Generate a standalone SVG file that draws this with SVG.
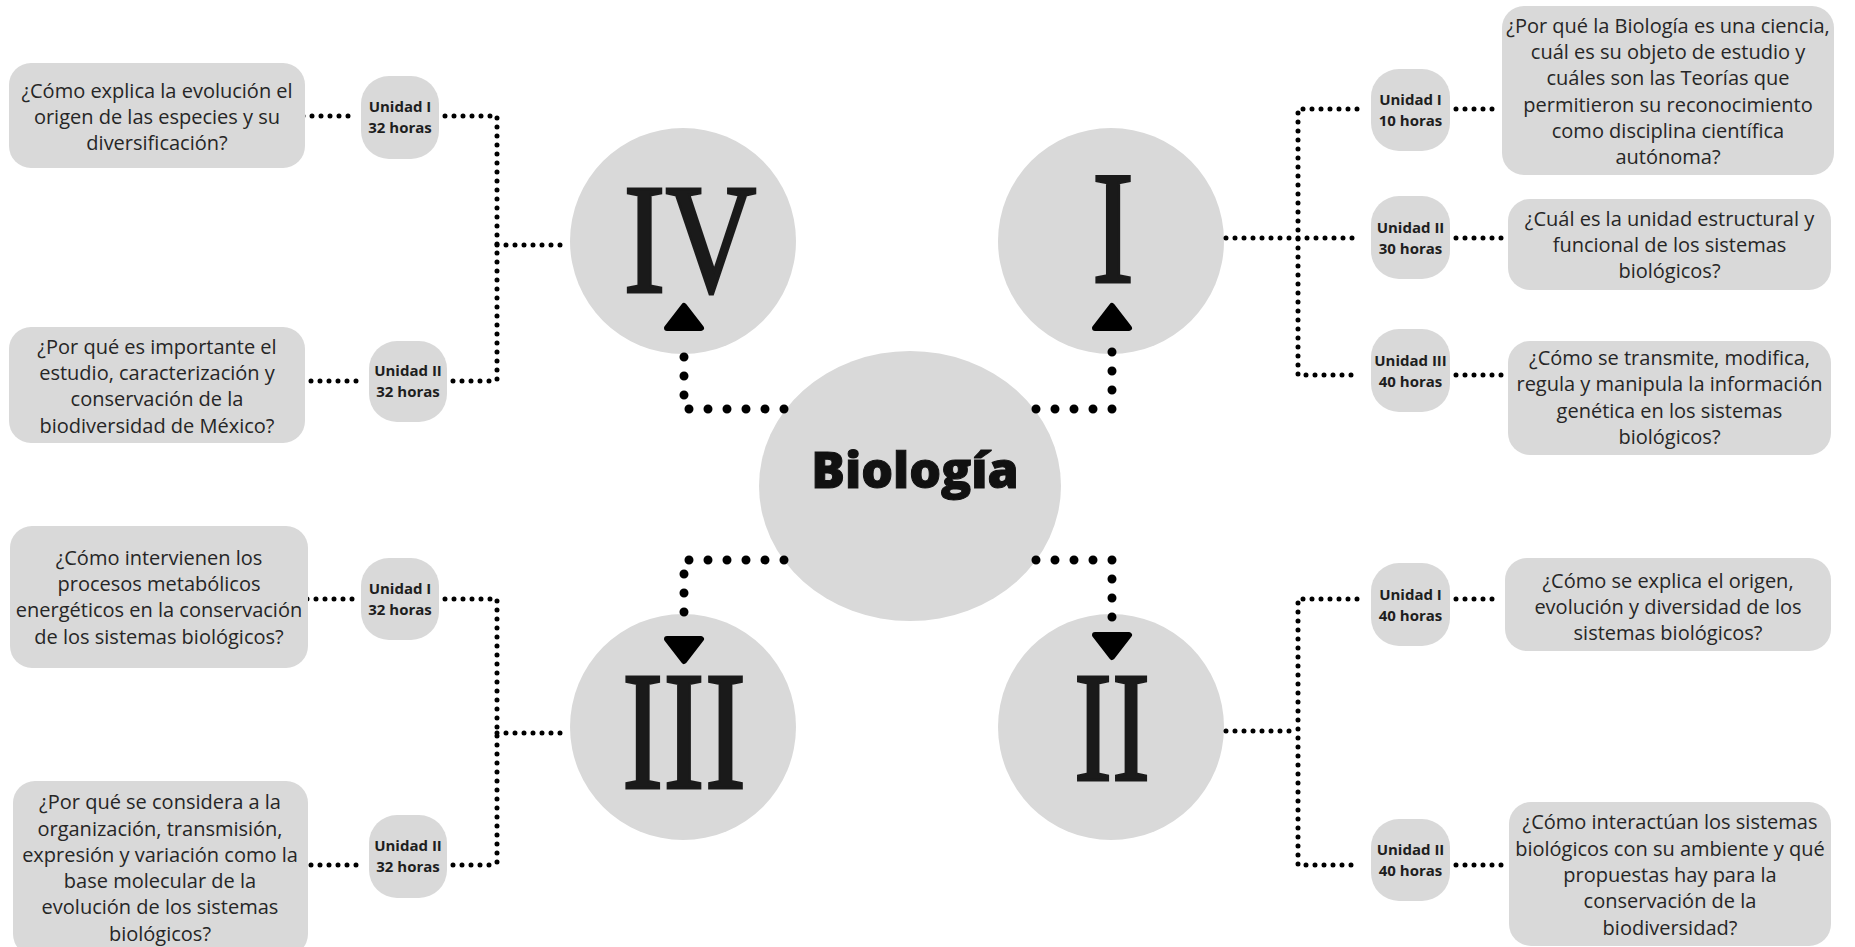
<svg xmlns="http://www.w3.org/2000/svg" width="1855" height="947" viewBox="0 0 1855 947">
<style>
.bg{fill:#ffffff}
.box{fill:#d9d9d9}
.circ{fill:#d9d9d9}
.q{font-family:"Open Sans","Liberation Sans",sans-serif;font-size:20px;fill:#262626;text-anchor:middle}
.u{font-family:"Open Sans","Liberation Sans",sans-serif;font-size:15px;font-weight:700;fill:#1e1e1e;text-anchor:middle}
.rn{font-family:"Liberation Serif","DejaVu Serif",serif;fill:#1a1a1a;stroke:#1a1a1a;stroke-width:3;stroke-linejoin:miter;text-anchor:middle}
.title{font-family:"Open Sans","Liberation Sans",sans-serif;font-size:50px;font-weight:800;fill:#111;stroke:#111;stroke-width:1;text-anchor:middle}
.sd{fill:none;stroke:#000;stroke-width:5;stroke-linecap:round;stroke-dasharray:0 9}
.bd{fill:none;stroke:#000;stroke-width:9;stroke-linecap:round;stroke-dasharray:0 19}
.ah{fill:#000;stroke:#000;stroke-width:6;stroke-linejoin:round}
</style>
<rect class="bg" x="0" y="0" width="1855" height="947"/>

<g id="center">
<ellipse class="circ" cx="910" cy="486" rx="151" ry="135"/>
<text class="title" x="915" y="488">Biología</text>
</g>
<g id="unit-IV">
<circle class="circ" cx="683" cy="241" r="113"/>
<text class="rn" x="690" y="292" font-size="156" textLength="133" lengthAdjust="spacingAndGlyphs">IV</text>
</g>
<g id="unit-I">
<circle class="circ" cx="1111" cy="241" r="113"/>
<text class="rn" x="1113" y="282" font-size="160" textLength="42" lengthAdjust="spacingAndGlyphs">I</text>
</g>
<g id="unit-III">
<circle class="circ" cx="683" cy="727" r="113"/>
<text class="rn" x="684" y="788" font-size="170" textLength="124" lengthAdjust="spacingAndGlyphs">III</text>
</g>
<g id="unit-II">
<circle class="circ" cx="1111" cy="727" r="113"/>
<text class="rn" x="1112" y="780" font-size="156" textLength="76" lengthAdjust="spacingAndGlyphs">II</text>
</g>

<g id="connectors">
<path class="bd" d="M784 409 H684 V344"/>
<path class="ah" d="M684 306 L701 328 L667 328 Z"/>
<path class="bd" d="M1036 409 H1112 V344"/>
<path class="ah" d="M1112 306 L1129 328 L1095 328 Z"/>
<path class="bd" d="M784 560 H684 V622"/>
<path class="ah" d="M684 661 L701 639 L667 639 Z"/>
<path class="bd" d="M1036 560 H1112 V618"/>
<path class="ah" d="M1112 657 L1129 635 L1095 635 Z"/>

<path class="sd" d="M303 116 H355"/>
<path class="sd" d="M445 116 H497 V381"/>
<path class="sd" d="M453 381 H497"/>
<path class="sd" d="M311 381 H363"/>
<path class="sd" d="M497 245 H568"/>

<path class="sd" d="M307 599 H355"/>
<path class="sd" d="M445 599 H497 V865"/>
<path class="sd" d="M453 865 H497"/>
<path class="sd" d="M311 865 H363"/>
<path class="sd" d="M497 733 H568"/>

<path class="sd" d="M1226 238 H1298"/>
<path class="sd" d="M1357 109 H1298 V375 H1357"/>
<path class="sd" d="M1298 238 H1357"/>
<path class="sd" d="M1456 109 H1497"/>
<path class="sd" d="M1456 238 H1503"/>
<path class="sd" d="M1456 375 H1503"/>

<path class="sd" d="M1226 731 H1298"/>
<path class="sd" d="M1357 599 H1298 V865 H1357"/>
<path class="sd" d="M1456 599 H1500"/>
<path class="sd" d="M1456 865 H1503"/>
</g>

<g id="q-IV-1">
<rect class="box" x="9" y="63" width="296" height="105" rx="22"/>
<text class="q" x="157" y="98">¿Cómo explica la evolución el</text>
<text class="q" x="157" y="124">origen de las especies y su</text>
<text class="q" x="157" y="150">diversificación?</text>
</g>
<g id="u-IV-1">
<rect class="box" x="361" y="76" width="78" height="83" rx="28"/>
<text class="u" x="400" y="112">Unidad I</text>
<text class="u" x="400" y="133">32 horas</text>
</g>
<g id="q-IV-2">
<rect class="box" x="9" y="327" width="296" height="116" rx="22"/>
<text class="q" x="157" y="354">¿Por qué es importante el</text>
<text class="q" x="157" y="380">estudio, caracterización y</text>
<text class="q" x="157" y="406">conservación de la</text>
<text class="q" x="157" y="433">biodiversidad de México?</text>
</g>
<g id="u-IV-2">
<rect class="box" x="369" y="341" width="78" height="81" rx="28"/>
<text class="u" x="408" y="376">Unidad II</text>
<text class="u" x="408" y="397">32 horas</text>
</g>

<g id="q-III-1">
<rect class="box" x="10" y="526" width="298" height="142" rx="22"/>
<text class="q" x="159" y="565">¿Cómo intervienen los</text>
<text class="q" x="159" y="591">procesos metabólicos</text>
<text class="q" x="159" y="617">energéticos en la conservación</text>
<text class="q" x="159" y="644">de los sistemas biológicos?</text>
</g>
<g id="u-III-1">
<rect class="box" x="361" y="558" width="78" height="82" rx="28"/>
<text class="u" x="400" y="594">Unidad I</text>
<text class="u" x="400" y="615">32 horas</text>
</g>
<g id="q-III-2">
<rect class="box" x="13" y="781" width="295" height="175" rx="22"/>
<text class="q" x="160" y="809">¿Por qué se considera a la</text>
<text class="q" x="160" y="836">organización, transmisión,</text>
<text class="q" x="160" y="862">expresión y variación como la</text>
<text class="q" x="160" y="888">base molecular de la</text>
<text class="q" x="160" y="914">evolución de los sistemas</text>
<text class="q" x="160" y="941">biológicos?</text>
</g>
<g id="u-III-2">
<rect class="box" x="369" y="815" width="78" height="83" rx="28"/>
<text class="u" x="408" y="851">Unidad II</text>
<text class="u" x="408" y="872">32 horas</text>
</g>

<g id="q-I-1">
<rect class="box" x="1502" y="6" width="332" height="169" rx="22"/>
<text class="q" x="1668" y="33">¿Por qué la Biología es una ciencia,</text>
<text class="q" x="1668" y="59">cuál es su objeto de estudio y</text>
<text class="q" x="1668" y="85">cuáles son las Teorías que</text>
<text class="q" x="1668" y="112">permitieron su reconocimiento</text>
<text class="q" x="1668" y="138">como disciplina científica</text>
<text class="q" x="1668" y="164">autónoma?</text>
</g>
<g id="u-I-1">
<rect class="box" x="1371" y="69" width="79" height="82" rx="28"/>
<text class="u" x="1410.5" y="105">Unidad I</text>
<text class="u" x="1410.5" y="126">10 horas</text>
</g>
<g id="q-I-2">
<rect class="box" x="1508" y="199" width="323" height="91" rx="22"/>
<text class="q" x="1669.5" y="226">¿Cuál es la unidad estructural y</text>
<text class="q" x="1669.5" y="252">funcional de los sistemas</text>
<text class="q" x="1669.5" y="278">biológicos?</text>
</g>
<g id="u-I-2">
<rect class="box" x="1371" y="196" width="79" height="83" rx="28"/>
<text class="u" x="1410.5" y="233">Unidad II</text>
<text class="u" x="1410.5" y="254">30 horas</text>
</g>
<g id="q-I-3">
<rect class="box" x="1508" y="341" width="323" height="114" rx="22"/>
<text class="q" x="1669.5" y="365">¿Cómo se transmite, modifica,</text>
<text class="q" x="1669.5" y="391">regula y manipula la información</text>
<text class="q" x="1669.5" y="418">genética en los sistemas</text>
<text class="q" x="1669.5" y="444">biológicos?</text>
</g>
<g id="u-I-3">
<rect class="box" x="1371" y="329" width="79" height="83" rx="28"/>
<text class="u" x="1410.5" y="366">Unidad III</text>
<text class="u" x="1410.5" y="387">40 horas</text>
</g>

<g id="q-II-1">
<rect class="box" x="1505" y="558" width="326" height="93" rx="22"/>
<text class="q" x="1668" y="588">¿Cómo se explica el origen,</text>
<text class="q" x="1668" y="614">evolución y diversidad de los</text>
<text class="q" x="1668" y="640">sistemas biológicos?</text>
</g>
<g id="u-II-1">
<rect class="box" x="1371" y="563" width="79" height="83" rx="28"/>
<text class="u" x="1410.5" y="600">Unidad I</text>
<text class="u" x="1410.5" y="621">40 horas</text>
</g>
<g id="q-II-2">
<rect class="box" x="1509" y="802" width="322" height="144" rx="22"/>
<text class="q" x="1670" y="829">¿Cómo interactúan los sistemas</text>
<text class="q" x="1670" y="856">biológicos con su ambiente y qué</text>
<text class="q" x="1670" y="882">propuestas hay para la</text>
<text class="q" x="1670" y="908">conservación de la</text>
<text class="q" x="1670" y="935">biodiversidad?</text>
</g>
<g id="u-II-2">
<rect class="box" x="1371" y="819" width="79" height="82" rx="28"/>
<text class="u" x="1410.5" y="855">Unidad II</text>
<text class="u" x="1410.5" y="876">40 horas</text>
</g>
</svg>
